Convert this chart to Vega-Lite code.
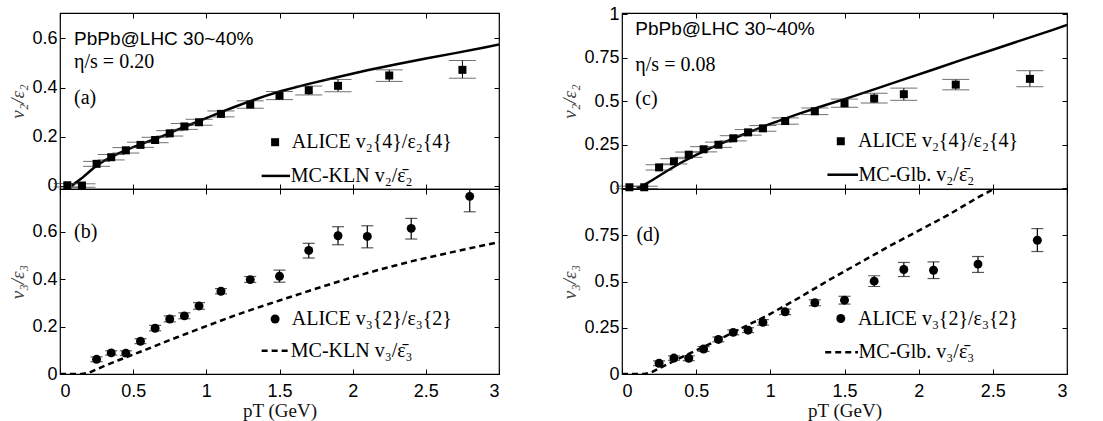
{
  "$schema": "https://vega.github.io/schema/vega-lite/v6.json",
  "padding": {"left": 8, "top": 4, "right": 5, "bottom": 0},
  "config": {
    "view": {"stroke": "black", "strokeWidth": 1.2},
    "font": "Liberation Sans",
    "axis": {"labelFont": "Liberation Sans", "labelFontSize": 18, "labelColor": "black", "tickColor": "black", "tickSize": -5, "tickWidth": 1, "domain": false, "grid": false, "labelPadding": 8, "titleFont": "Liberation Serif", "titleFontSize": 19, "titleFontWeight": "normal", "titleColor": "#444", "titlePadding": 4},
    "axisY": {"titleFontStyle": "italic"},
    "axisX": {"titleColor": "#111", "titlePadding": 1, "labelPadding": 13}
  },
  "datasets": {
    "pts": [
      {"panel": "a", "pt": 0.05, "v": 0.003, "lo": -0.004, "hi": 0.010},
      {"panel": "a", "pt": 0.15, "v": 0.002, "lo": -0.005, "hi": 0.009},
      {"panel": "a", "pt": 0.25, "v": 0.090, "lo": 0.080, "hi": 0.100},
      {"panel": "a", "pt": 0.35, "v": 0.117, "lo": 0.106, "hi": 0.128},
      {"panel": "a", "pt": 0.45, "v": 0.145, "lo": 0.134, "hi": 0.156},
      {"panel": "a", "pt": 0.55, "v": 0.167, "lo": 0.157, "hi": 0.178},
      {"panel": "a", "pt": 0.65, "v": 0.187, "lo": 0.176, "hi": 0.198},
      {"panel": "a", "pt": 0.75, "v": 0.214, "lo": 0.203, "hi": 0.225},
      {"panel": "a", "pt": 0.85, "v": 0.242, "lo": 0.230, "hi": 0.254},
      {"panel": "a", "pt": 0.95, "v": 0.259, "lo": 0.247, "hi": 0.271},
      {"panel": "a", "pt": 1.1, "v": 0.293, "lo": 0.281, "hi": 0.305},
      {"panel": "a", "pt": 1.3, "v": 0.331, "lo": 0.316, "hi": 0.346},
      {"panel": "a", "pt": 1.5, "v": 0.367, "lo": 0.351, "hi": 0.384},
      {"panel": "a", "pt": 1.7, "v": 0.389, "lo": 0.370, "hi": 0.406},
      {"panel": "a", "pt": 1.9, "v": 0.407, "lo": 0.383, "hi": 0.433},
      {"panel": "a", "pt": 2.25, "v": 0.449, "lo": 0.425, "hi": 0.472},
      {"panel": "a", "pt": 2.75, "v": 0.472, "lo": 0.438, "hi": 0.510},
      {"panel": "b", "pt": 0.25, "v": 0.062, "lo": 0.052, "hi": 0.072},
      {"panel": "b", "pt": 0.35, "v": 0.089, "lo": 0.080, "hi": 0.098},
      {"panel": "b", "pt": 0.45, "v": 0.088, "lo": 0.078, "hi": 0.098},
      {"panel": "b", "pt": 0.55, "v": 0.138, "lo": 0.128, "hi": 0.149},
      {"panel": "b", "pt": 0.65, "v": 0.193, "lo": 0.182, "hi": 0.205},
      {"panel": "b", "pt": 0.75, "v": 0.232, "lo": 0.220, "hi": 0.245},
      {"panel": "b", "pt": 0.85, "v": 0.245, "lo": 0.233, "hi": 0.258},
      {"panel": "b", "pt": 0.95, "v": 0.287, "lo": 0.273, "hi": 0.301},
      {"panel": "b", "pt": 1.1, "v": 0.349, "lo": 0.338, "hi": 0.360},
      {"panel": "b", "pt": 1.3, "v": 0.398, "lo": 0.386, "hi": 0.411},
      {"panel": "b", "pt": 1.5, "v": 0.412, "lo": 0.387, "hi": 0.438},
      {"panel": "b", "pt": 1.7, "v": 0.521, "lo": 0.489, "hi": 0.551},
      {"panel": "b", "pt": 1.9, "v": 0.583, "lo": 0.545, "hi": 0.621},
      {"panel": "b", "pt": 2.1, "v": 0.580, "lo": 0.532, "hi": 0.625},
      {"panel": "b", "pt": 2.4, "v": 0.614, "lo": 0.569, "hi": 0.656},
      {"panel": "b", "pt": 2.8, "v": 0.749, "lo": 0.684, "hi": 0.814},
      {"panel": "c", "pt": 0.05, "v": 0.006, "lo": -0.002, "hi": 0.012},
      {"panel": "c", "pt": 0.15, "v": 0.006, "lo": -0.002, "hi": 0.012},
      {"panel": "c", "pt": 0.25, "v": 0.120, "lo": 0.105, "hi": 0.135},
      {"panel": "c", "pt": 0.35, "v": 0.155, "lo": 0.140, "hi": 0.170},
      {"panel": "c", "pt": 0.45, "v": 0.193, "lo": 0.178, "hi": 0.208},
      {"panel": "c", "pt": 0.55, "v": 0.224, "lo": 0.209, "hi": 0.239},
      {"panel": "c", "pt": 0.65, "v": 0.250, "lo": 0.235, "hi": 0.265},
      {"panel": "c", "pt": 0.75, "v": 0.287, "lo": 0.272, "hi": 0.302},
      {"panel": "c", "pt": 0.85, "v": 0.321, "lo": 0.305, "hi": 0.337},
      {"panel": "c", "pt": 0.95, "v": 0.344, "lo": 0.328, "hi": 0.360},
      {"panel": "c", "pt": 1.1, "v": 0.386, "lo": 0.368, "hi": 0.404},
      {"panel": "c", "pt": 1.3, "v": 0.442, "lo": 0.423, "hi": 0.461},
      {"panel": "c", "pt": 1.5, "v": 0.488, "lo": 0.465, "hi": 0.512},
      {"panel": "c", "pt": 1.7, "v": 0.515, "lo": 0.490, "hi": 0.545},
      {"panel": "c", "pt": 1.9, "v": 0.540, "lo": 0.505, "hi": 0.575},
      {"panel": "c", "pt": 2.25, "v": 0.595, "lo": 0.565, "hi": 0.625},
      {"panel": "c", "pt": 2.75, "v": 0.628, "lo": 0.583, "hi": 0.675},
      {"panel": "d", "pt": 0.25, "v": 0.058, "lo": 0.045, "hi": 0.071},
      {"panel": "d", "pt": 0.35, "v": 0.086, "lo": 0.074, "hi": 0.098},
      {"panel": "d", "pt": 0.45, "v": 0.085, "lo": 0.072, "hi": 0.098},
      {"panel": "d", "pt": 0.55, "v": 0.135, "lo": 0.122, "hi": 0.148},
      {"panel": "d", "pt": 0.65, "v": 0.187, "lo": 0.174, "hi": 0.200},
      {"panel": "d", "pt": 0.75, "v": 0.225, "lo": 0.212, "hi": 0.238},
      {"panel": "d", "pt": 0.85, "v": 0.237, "lo": 0.224, "hi": 0.250},
      {"panel": "d", "pt": 0.95, "v": 0.279, "lo": 0.264, "hi": 0.294},
      {"panel": "d", "pt": 1.1, "v": 0.336, "lo": 0.321, "hi": 0.351},
      {"panel": "d", "pt": 1.3, "v": 0.385, "lo": 0.369, "hi": 0.401},
      {"panel": "d", "pt": 1.5, "v": 0.399, "lo": 0.378, "hi": 0.420},
      {"panel": "d", "pt": 1.7, "v": 0.502, "lo": 0.473, "hi": 0.531},
      {"panel": "d", "pt": 1.9, "v": 0.565, "lo": 0.527, "hi": 0.603},
      {"panel": "d", "pt": 2.1, "v": 0.561, "lo": 0.516, "hi": 0.606},
      {"panel": "d", "pt": 2.4, "v": 0.594, "lo": 0.549, "hi": 0.635},
      {"panel": "d", "pt": 2.8, "v": 0.723, "lo": 0.662, "hi": 0.786}
    ],
    "curves": [
      {"panel": "a", "pt": 0.08, "v": 0.0},
      {"panel": "a", "pt": 0.1, "v": 0.01},
      {"panel": "a", "pt": 0.15, "v": 0.032},
      {"panel": "a", "pt": 0.2, "v": 0.058},
      {"panel": "a", "pt": 0.25, "v": 0.083},
      {"panel": "a", "pt": 0.3, "v": 0.102},
      {"panel": "a", "pt": 0.4, "v": 0.133},
      {"panel": "a", "pt": 0.5, "v": 0.158},
      {"panel": "a", "pt": 0.6, "v": 0.18},
      {"panel": "a", "pt": 0.7, "v": 0.203},
      {"panel": "a", "pt": 0.8, "v": 0.228},
      {"panel": "a", "pt": 0.9, "v": 0.252},
      {"panel": "a", "pt": 1.0, "v": 0.276},
      {"panel": "a", "pt": 1.1, "v": 0.3},
      {"panel": "a", "pt": 1.2, "v": 0.323},
      {"panel": "a", "pt": 1.3, "v": 0.345},
      {"panel": "a", "pt": 1.4, "v": 0.365},
      {"panel": "a", "pt": 1.5, "v": 0.384},
      {"panel": "a", "pt": 1.7, "v": 0.415},
      {"panel": "a", "pt": 1.9, "v": 0.443},
      {"panel": "a", "pt": 2.1, "v": 0.47},
      {"panel": "a", "pt": 2.3, "v": 0.495},
      {"panel": "a", "pt": 2.5, "v": 0.518},
      {"panel": "a", "pt": 2.7, "v": 0.54},
      {"panel": "a", "pt": 2.9, "v": 0.563},
      {"panel": "a", "pt": 3.0, "v": 0.575},
      {"panel": "b", "pt": 0.0, "v": 0.0},
      {"panel": "b", "pt": 0.15, "v": 0.0},
      {"panel": "b", "pt": 0.2, "v": 0.006},
      {"panel": "b", "pt": 0.3, "v": 0.033},
      {"panel": "b", "pt": 0.4, "v": 0.058},
      {"panel": "b", "pt": 0.5, "v": 0.082},
      {"panel": "b", "pt": 0.6, "v": 0.106},
      {"panel": "b", "pt": 0.8, "v": 0.155},
      {"panel": "b", "pt": 1.0, "v": 0.202},
      {"panel": "b", "pt": 1.2, "v": 0.248},
      {"panel": "b", "pt": 1.4, "v": 0.29},
      {"panel": "b", "pt": 1.6, "v": 0.33},
      {"panel": "b", "pt": 1.8, "v": 0.37},
      {"panel": "b", "pt": 2.0, "v": 0.408},
      {"panel": "b", "pt": 2.2, "v": 0.443},
      {"panel": "b", "pt": 2.4, "v": 0.475},
      {"panel": "b", "pt": 2.6, "v": 0.503},
      {"panel": "b", "pt": 2.8, "v": 0.53},
      {"panel": "b", "pt": 3.0, "v": 0.556},
      {"panel": "c", "pt": 0.1, "v": 0.0},
      {"panel": "c", "pt": 0.15, "v": 0.02},
      {"panel": "c", "pt": 0.2, "v": 0.045},
      {"panel": "c", "pt": 0.3, "v": 0.098},
      {"panel": "c", "pt": 0.4, "v": 0.148},
      {"panel": "c", "pt": 0.5, "v": 0.192},
      {"panel": "c", "pt": 0.6, "v": 0.232},
      {"panel": "c", "pt": 0.7, "v": 0.268},
      {"panel": "c", "pt": 0.8, "v": 0.303},
      {"panel": "c", "pt": 0.9, "v": 0.337},
      {"panel": "c", "pt": 1.0, "v": 0.37},
      {"panel": "c", "pt": 1.1, "v": 0.4},
      {"panel": "c", "pt": 1.2, "v": 0.43},
      {"panel": "c", "pt": 1.3, "v": 0.458},
      {"panel": "c", "pt": 1.4, "v": 0.485},
      {"panel": "c", "pt": 1.5, "v": 0.512},
      {"panel": "c", "pt": 1.7, "v": 0.568},
      {"panel": "c", "pt": 1.9, "v": 0.625},
      {"panel": "c", "pt": 2.1, "v": 0.682},
      {"panel": "c", "pt": 2.3, "v": 0.74},
      {"panel": "c", "pt": 2.5, "v": 0.795},
      {"panel": "c", "pt": 2.7, "v": 0.852},
      {"panel": "c", "pt": 2.9, "v": 0.908},
      {"panel": "c", "pt": 3.0, "v": 0.937},
      {"panel": "d", "pt": 0.0, "v": 0.0},
      {"panel": "d", "pt": 0.15, "v": 0.0},
      {"panel": "d", "pt": 0.2, "v": 0.01},
      {"panel": "d", "pt": 0.3, "v": 0.05},
      {"panel": "d", "pt": 0.4, "v": 0.09},
      {"panel": "d", "pt": 0.5, "v": 0.127},
      {"panel": "d", "pt": 0.6, "v": 0.165},
      {"panel": "d", "pt": 0.7, "v": 0.205},
      {"panel": "d", "pt": 0.8, "v": 0.245},
      {"panel": "d", "pt": 0.9, "v": 0.285},
      {"panel": "d", "pt": 1.0, "v": 0.325},
      {"panel": "d", "pt": 1.2, "v": 0.415},
      {"panel": "d", "pt": 1.4, "v": 0.51},
      {"panel": "d", "pt": 1.6, "v": 0.6},
      {"panel": "d", "pt": 1.8, "v": 0.69},
      {"panel": "d", "pt": 2.0, "v": 0.775},
      {"panel": "d", "pt": 2.2, "v": 0.86},
      {"panel": "d", "pt": 2.4, "v": 0.955},
      {"panel": "d", "pt": 2.6, "v": 1.04}
    ]
  },
  "spacing": 59,
  "hconcat": [
    {
      "bounds": "flush",
      "spacing": 0,
      "vconcat": [
        {
          "width": 439, "height": 176,
          "resolve": {"axis": {"x": "independent", "y": "independent"}},
          "layer": [
            {"data": {"name": "curves"}, "transform": [{"filter": "datum.panel == 'a'"}],
             "mark": {"type": "line", "color": "black", "strokeWidth": 2.5, "clip": true},
             "encoding": {
               "x": {"field": "pt", "type": "quantitative", "scale": {"domain": [0, 3], "nice": false}, "axis": {"orient": "bottom", "values": [0, 0.5, 1, 1.5, 2, 2.5, 3], "labels": false, "title": null}},
               "y": {"field": "v", "type": "quantitative", "scale": {"domain": [-0.0122, 0.703], "nice": false, "zero": false}, "axis": {"orient": "left", "values": [0, 0.2, 0.4, 0.6], "format": ".1~f", "title": "v₂/ε₂"}}
             }},
            {"data": {"name": "pts"}, "transform": [{"filter": "datum.panel == 'a'"}],
             "mark": {"type": "rule", "color": "black", "strokeWidth": 1},
             "encoding": {"x": {"field": "pt", "type": "quantitative", "axis": null}, "y": {"field": "lo", "type": "quantitative", "axis": null}, "y2": {"field": "hi"}}},
            {"data": {"name": "pts"}, "transform": [{"filter": "datum.panel == 'a'"}],
             "mark": {"type": "tick", "orient": "horizontal", "size": 27, "thickness": 1, "color": "#333"},
             "encoding": {"x": {"field": "pt", "type": "quantitative", "axis": null}, "y": {"field": "lo", "type": "quantitative", "axis": null}}},
            {"data": {"name": "pts"}, "transform": [{"filter": "datum.panel == 'a'"}],
             "mark": {"type": "tick", "orient": "horizontal", "size": 27, "thickness": 1, "color": "#333"},
             "encoding": {"x": {"field": "pt", "type": "quantitative", "axis": null}, "y": {"field": "hi", "type": "quantitative", "axis": null}}},
            {"data": {"name": "pts"}, "transform": [{"filter": "datum.panel == 'a'"}],
             "mark": {"type": "point", "shape": "square", "filled": true, "size": 64, "color": "black", "opacity": 1},
             "encoding": {
               "x": {"field": "pt", "type": "quantitative", "scale": {"domain": [0, 3], "nice": false}, "axis": {"orient": "top", "values": [0, 0.5, 1, 1.5, 2, 2.5, 3], "labels": false, "title": null}},
               "y": {"field": "v", "type": "quantitative", "scale": {"domain": [-0.0122, 0.703], "nice": false, "zero": false}, "axis": {"orient": "right", "values": [0, 0.2, 0.4, 0.6], "labels": false, "title": null}}
             }},
            {"data": {"values": [{}]}, "mark": {"type": "text", "align": "left", "baseline": "middle", "font": "Liberation Sans", "fontSize": 19, "color": "black"},
             "encoding": {"x": {"datum": 0.096, "type": "quantitative", "axis": null}, "y": {"datum": 0.598, "type": "quantitative", "axis": null}, "text": {"value": "PbPb@LHC 30~40%"}}},
            {"data": {"values": [{}]}, "mark": {"type": "text", "align": "left", "baseline": "middle", "font": "Liberation Serif", "fontSize": 20, "color": "black"},
             "encoding": {"x": {"datum": 0.096, "type": "quantitative", "axis": null}, "y": {"datum": 0.504, "type": "quantitative", "axis": null}, "text": {"value": "η/s = 0.20"}}},
            {"data": {"values": [{}]}, "mark": {"type": "text", "align": "left", "baseline": "middle", "font": "Liberation Serif", "fontSize": 20, "color": "black"},
             "encoding": {"x": {"datum": 0.096, "type": "quantitative", "axis": null}, "y": {"datum": 0.357, "type": "quantitative", "axis": null}, "text": {"value": "(a)"}}},
            {"data": {"values": [{}]}, "mark": {"type": "point", "shape": "square", "filled": true, "size": 64, "color": "black", "opacity": 1},
             "encoding": {"x": {"datum": 1.47, "type": "quantitative", "axis": null}, "y": {"datum": 0.178, "type": "quantitative", "axis": null}}},
            {"data": {"values": [{}]}, "mark": {"type": "text", "align": "left", "baseline": "middle", "font": "Liberation Serif", "fontSize": 20, "color": "black"},
             "encoding": {"x": {"datum": 1.584, "type": "quantitative", "axis": null}, "y": {"datum": 0.178, "type": "quantitative", "axis": null}, "text": {"value": "ALICE v₂{4}/ε₂{4}"}}},
            {"data": {"values": [{}]}, "mark": {"type": "rule", "color": "black", "strokeWidth": 2.5},
             "encoding": {"x": {"datum": 1.378, "type": "quantitative", "axis": null}, "x2": {"datum": 1.572}, "y": {"datum": 0.041, "type": "quantitative", "axis": null}}},
            {"data": {"values": [{}]}, "mark": {"type": "text", "align": "left", "baseline": "middle", "font": "Liberation Serif", "fontSize": 20, "color": "black"},
             "encoding": {"x": {"datum": 1.577, "type": "quantitative", "axis": null}, "y": {"datum": 0.041, "type": "quantitative", "axis": null}, "text": {"value": "MC-KLN v₂/ε̄₂"}}}
          ]
        },
        {
          "width": 439, "height": 185,
          "resolve": {"axis": {"x": "independent", "y": "independent"}},
          "layer": [
            {"data": {"name": "curves"}, "transform": [{"filter": "datum.panel == 'b'"}],
             "mark": {"type": "line", "color": "black", "strokeWidth": 2.5, "strokeDash": [6, 4], "clip": true},
             "encoding": {
               "x": {"field": "pt", "type": "quantitative", "scale": {"domain": [0, 3], "nice": false}, "axis": {"orient": "bottom", "values": [0, 0.5, 1, 1.5, 2, 2.5, 3], "format": ".1~f", "title": "pT (GeV)"}},
               "y": {"field": "v", "type": "quantitative", "scale": {"domain": [0, 0.78], "nice": false, "zero": false}, "axis": {"orient": "left", "values": [0, 0.2, 0.4, 0.6], "format": ".1~f", "title": "v₃/ε₃"}}
             }},
            {"data": {"name": "pts"}, "transform": [{"filter": "datum.panel == 'b'"}],
             "mark": {"type": "rule", "color": "black", "strokeWidth": 1.2, "clip": true},
             "encoding": {"x": {"field": "pt", "type": "quantitative", "axis": null}, "y": {"field": "lo", "type": "quantitative", "axis": null}, "y2": {"field": "hi"}}},
            {"data": {"name": "pts"}, "transform": [{"filter": "datum.panel == 'b'"}],
             "mark": {"type": "tick", "orient": "horizontal", "size": 12, "thickness": 1.2, "color": "#111", "clip": true},
             "encoding": {"x": {"field": "pt", "type": "quantitative", "axis": null}, "y": {"field": "lo", "type": "quantitative", "axis": null}}},
            {"data": {"name": "pts"}, "transform": [{"filter": "datum.panel == 'b'"}],
             "mark": {"type": "tick", "orient": "horizontal", "size": 12, "thickness": 1.2, "color": "#111", "clip": true},
             "encoding": {"x": {"field": "pt", "type": "quantitative", "axis": null}, "y": {"field": "hi", "type": "quantitative", "axis": null}}},
            {"data": {"name": "pts"}, "transform": [{"filter": "datum.panel == 'b'"}],
             "mark": {"type": "point", "shape": "circle", "filled": true, "size": 80, "color": "black", "opacity": 1},
             "encoding": {
               "x": {"field": "pt", "type": "quantitative", "scale": {"domain": [0, 3], "nice": false}, "axis": {"orient": "top", "values": [0, 0.5, 1, 1.5, 2, 2.5, 3], "labels": false, "title": null}},
               "y": {"field": "v", "type": "quantitative", "scale": {"domain": [0, 0.78], "nice": false, "zero": false}, "axis": {"orient": "right", "values": [0, 0.2, 0.4, 0.6], "labels": false, "title": null}}
             }},
            {"data": {"values": [{}]}, "mark": {"type": "text", "align": "left", "baseline": "middle", "font": "Liberation Serif", "fontSize": 20, "color": "black"},
             "encoding": {"x": {"datum": 0.096, "type": "quantitative", "axis": null}, "y": {"datum": 0.597, "type": "quantitative", "axis": null}, "text": {"value": "(b)"}}},
            {"data": {"values": [{}]}, "mark": {"type": "point", "shape": "circle", "filled": true, "size": 80, "color": "black", "opacity": 1},
             "encoding": {"x": {"datum": 1.47, "type": "quantitative", "axis": null}, "y": {"datum": 0.232, "type": "quantitative", "axis": null}}},
            {"data": {"values": [{}]}, "mark": {"type": "text", "align": "left", "baseline": "middle", "font": "Liberation Serif", "fontSize": 20, "color": "black"},
             "encoding": {"x": {"datum": 1.584, "type": "quantitative", "axis": null}, "y": {"datum": 0.232, "type": "quantitative", "axis": null}, "text": {"value": "ALICE v₃{2}/ε₃{2}"}}},
            {"data": {"values": [{}]}, "mark": {"type": "rule", "color": "black", "strokeWidth": 2.5, "strokeDash": [6, 4]},
             "encoding": {"x": {"datum": 1.378, "type": "quantitative", "axis": null}, "x2": {"datum": 1.572}, "y": {"datum": 0.098, "type": "quantitative", "axis": null}}},
            {"data": {"values": [{}]}, "mark": {"type": "text", "align": "left", "baseline": "middle", "font": "Liberation Serif", "fontSize": 20, "color": "black"},
             "encoding": {"x": {"datum": 1.577, "type": "quantitative", "axis": null}, "y": {"datum": 0.098, "type": "quantitative", "axis": null}, "text": {"value": "MC-KLN v₃/ε̄₃"}}}
          ]
        }
      ]
    },
    {
      "bounds": "flush",
      "spacing": 0,
      "vconcat": [
        {
          "width": 445, "height": 176,
          "resolve": {"axis": {"x": "independent", "y": "independent"}},
          "layer": [
            {"data": {"name": "curves"}, "transform": [{"filter": "datum.panel == 'c'"}],
             "mark": {"type": "line", "color": "black", "strokeWidth": 2.5, "clip": true},
             "encoding": {
               "x": {"field": "pt", "type": "quantitative", "scale": {"domain": [0, 3], "nice": false}, "axis": {"orient": "bottom", "values": [0, 0.5, 1, 1.5, 2, 2.5, 3], "labels": false, "title": null}},
               "y": {"field": "v", "type": "quantitative", "scale": {"domain": [-0.004, 1.006], "nice": false, "zero": false}, "axis": {"orient": "left", "values": [0, 0.25, 0.5, 0.75, 1], "format": ".2~f", "title": "v₂/ε₂"}}
             }},
            {"data": {"name": "pts"}, "transform": [{"filter": "datum.panel == 'c'"}],
             "mark": {"type": "rule", "color": "black", "strokeWidth": 1},
             "encoding": {"x": {"field": "pt", "type": "quantitative", "axis": null}, "y": {"field": "lo", "type": "quantitative", "axis": null}, "y2": {"field": "hi"}}},
            {"data": {"name": "pts"}, "transform": [{"filter": "datum.panel == 'c'"}],
             "mark": {"type": "tick", "orient": "horizontal", "size": 27, "thickness": 1, "color": "#333"},
             "encoding": {"x": {"field": "pt", "type": "quantitative", "axis": null}, "y": {"field": "lo", "type": "quantitative", "axis": null}}},
            {"data": {"name": "pts"}, "transform": [{"filter": "datum.panel == 'c'"}],
             "mark": {"type": "tick", "orient": "horizontal", "size": 27, "thickness": 1, "color": "#333"},
             "encoding": {"x": {"field": "pt", "type": "quantitative", "axis": null}, "y": {"field": "hi", "type": "quantitative", "axis": null}}},
            {"data": {"name": "pts"}, "transform": [{"filter": "datum.panel == 'c'"}],
             "mark": {"type": "point", "shape": "square", "filled": true, "size": 64, "color": "black", "opacity": 1},
             "encoding": {
               "x": {"field": "pt", "type": "quantitative", "scale": {"domain": [0, 3], "nice": false}, "axis": {"orient": "top", "values": [0, 0.5, 1, 1.5, 2, 2.5, 3], "labels": false, "title": null}},
               "y": {"field": "v", "type": "quantitative", "scale": {"domain": [-0.004, 1.006], "nice": false, "zero": false}, "axis": {"orient": "right", "values": [0, 0.25, 0.5, 0.75, 1], "labels": false, "title": null}}
             }},
            {"data": {"values": [{}]}, "mark": {"type": "text", "align": "left", "baseline": "middle", "font": "Liberation Sans", "fontSize": 19, "color": "black"},
             "encoding": {"x": {"datum": 0.09, "type": "quantitative", "axis": null}, "y": {"datum": 0.914, "type": "quantitative", "axis": null}, "text": {"value": "PbPb@LHC 30~40%"}}},
            {"data": {"values": [{}]}, "mark": {"type": "text", "align": "left", "baseline": "middle", "font": "Liberation Serif", "fontSize": 20, "color": "black"},
             "encoding": {"x": {"datum": 0.09, "type": "quantitative", "axis": null}, "y": {"datum": 0.707, "type": "quantitative", "axis": null}, "text": {"value": "η/s = 0.08"}}},
            {"data": {"values": [{}]}, "mark": {"type": "text", "align": "left", "baseline": "middle", "font": "Liberation Serif", "fontSize": 20, "color": "black"},
             "encoding": {"x": {"datum": 0.09, "type": "quantitative", "axis": null}, "y": {"datum": 0.512, "type": "quantitative", "axis": null}, "text": {"value": "(c)"}}},
            {"data": {"values": [{}]}, "mark": {"type": "point", "shape": "square", "filled": true, "size": 64, "color": "black", "opacity": 1},
             "encoding": {"x": {"datum": 1.475, "type": "quantitative", "axis": null}, "y": {"datum": 0.27, "type": "quantitative", "axis": null}}},
            {"data": {"values": [{}]}, "mark": {"type": "text", "align": "left", "baseline": "middle", "font": "Liberation Serif", "fontSize": 20, "color": "black"},
             "encoding": {"x": {"datum": 1.591, "type": "quantitative", "axis": null}, "y": {"datum": 0.27, "type": "quantitative", "axis": null}, "text": {"value": "ALICE v₂{4}/ε₂{4}"}}},
            {"data": {"values": [{}]}, "mark": {"type": "rule", "color": "black", "strokeWidth": 2.5},
             "encoding": {"x": {"datum": 1.385, "type": "quantitative", "axis": null}, "x2": {"datum": 1.591}, "y": {"datum": 0.078, "type": "quantitative", "axis": null}}},
            {"data": {"values": [{}]}, "mark": {"type": "text", "align": "left", "baseline": "middle", "font": "Liberation Serif", "fontSize": 20, "color": "black"},
             "encoding": {"x": {"datum": 1.595, "type": "quantitative", "axis": null}, "y": {"datum": 0.078, "type": "quantitative", "axis": null}, "text": {"value": "MC-Glb. v₂/ε̄₂"}}}
          ]
        },
        {
          "width": 445, "height": 185,
          "resolve": {"axis": {"x": "independent", "y": "independent"}},
          "layer": [
            {"data": {"name": "curves"}, "transform": [{"filter": "datum.panel == 'd'"}],
             "mark": {"type": "line", "color": "black", "strokeWidth": 2.5, "strokeDash": [6, 4], "clip": true},
             "encoding": {
               "x": {"field": "pt", "type": "quantitative", "scale": {"domain": [0, 3], "nice": false}, "axis": {"orient": "bottom", "values": [0, 0.5, 1, 1.5, 2, 2.5, 3], "format": ".1~f", "title": "pT (GeV)"}},
               "y": {"field": "v", "type": "quantitative", "scale": {"domain": [0, 1], "nice": false, "zero": false}, "axis": {"orient": "left", "values": [0, 0.25, 0.5, 0.75], "format": ".2~f", "title": "v₃/ε₃"}}
             }},
            {"data": {"name": "pts"}, "transform": [{"filter": "datum.panel == 'd'"}],
             "mark": {"type": "rule", "color": "black", "strokeWidth": 1.2},
             "encoding": {"x": {"field": "pt", "type": "quantitative", "axis": null}, "y": {"field": "lo", "type": "quantitative", "axis": null}, "y2": {"field": "hi"}}},
            {"data": {"name": "pts"}, "transform": [{"filter": "datum.panel == 'd'"}],
             "mark": {"type": "tick", "orient": "horizontal", "size": 12, "thickness": 1.2, "color": "#111"},
             "encoding": {"x": {"field": "pt", "type": "quantitative", "axis": null}, "y": {"field": "lo", "type": "quantitative", "axis": null}}},
            {"data": {"name": "pts"}, "transform": [{"filter": "datum.panel == 'd'"}],
             "mark": {"type": "tick", "orient": "horizontal", "size": 12, "thickness": 1.2, "color": "#111"},
             "encoding": {"x": {"field": "pt", "type": "quantitative", "axis": null}, "y": {"field": "hi", "type": "quantitative", "axis": null}}},
            {"data": {"name": "pts"}, "transform": [{"filter": "datum.panel == 'd'"}],
             "mark": {"type": "point", "shape": "circle", "filled": true, "size": 80, "color": "black", "opacity": 1},
             "encoding": {
               "x": {"field": "pt", "type": "quantitative", "scale": {"domain": [0, 3], "nice": false}, "axis": {"orient": "top", "values": [0, 0.5, 1, 1.5, 2, 2.5, 3], "labels": false, "title": null}},
               "y": {"field": "v", "type": "quantitative", "scale": {"domain": [0, 1], "nice": false, "zero": false}, "axis": {"orient": "right", "values": [0, 0.25, 0.5, 0.75], "labels": false, "title": null}}
             }},
            {"data": {"values": [{}]}, "mark": {"type": "text", "align": "left", "baseline": "middle", "font": "Liberation Serif", "fontSize": 20, "color": "black"},
             "encoding": {"x": {"datum": 0.097, "type": "quantitative", "axis": null}, "y": {"datum": 0.754, "type": "quantitative", "axis": null}, "text": {"value": "(d)"}}},
            {"data": {"values": [{}]}, "mark": {"type": "point", "shape": "circle", "filled": true, "size": 80, "color": "black", "opacity": 1},
             "encoding": {"x": {"datum": 1.475, "type": "quantitative", "axis": null}, "y": {"datum": 0.30, "type": "quantitative", "axis": null}}},
            {"data": {"values": [{}]}, "mark": {"type": "text", "align": "left", "baseline": "middle", "font": "Liberation Serif", "fontSize": 20, "color": "black"},
             "encoding": {"x": {"datum": 1.591, "type": "quantitative", "axis": null}, "y": {"datum": 0.30, "type": "quantitative", "axis": null}, "text": {"value": "ALICE v₃{2}/ε₃{2}"}}},
            {"data": {"values": [{}]}, "mark": {"type": "rule", "color": "black", "strokeWidth": 2.5, "strokeDash": [6, 4]},
             "encoding": {"x": {"datum": 1.37, "type": "quantitative", "axis": null}, "x2": {"datum": 1.591}, "y": {"datum": 0.117, "type": "quantitative", "axis": null}}},
            {"data": {"values": [{}]}, "mark": {"type": "text", "align": "left", "baseline": "middle", "font": "Liberation Serif", "fontSize": 20, "color": "black"},
             "encoding": {"x": {"datum": 1.595, "type": "quantitative", "axis": null}, "y": {"datum": 0.117, "type": "quantitative", "axis": null}, "text": {"value": "MC-Glb. v₃/ε̄₃"}}}
          ]
        }
      ]
    }
  ]
}
